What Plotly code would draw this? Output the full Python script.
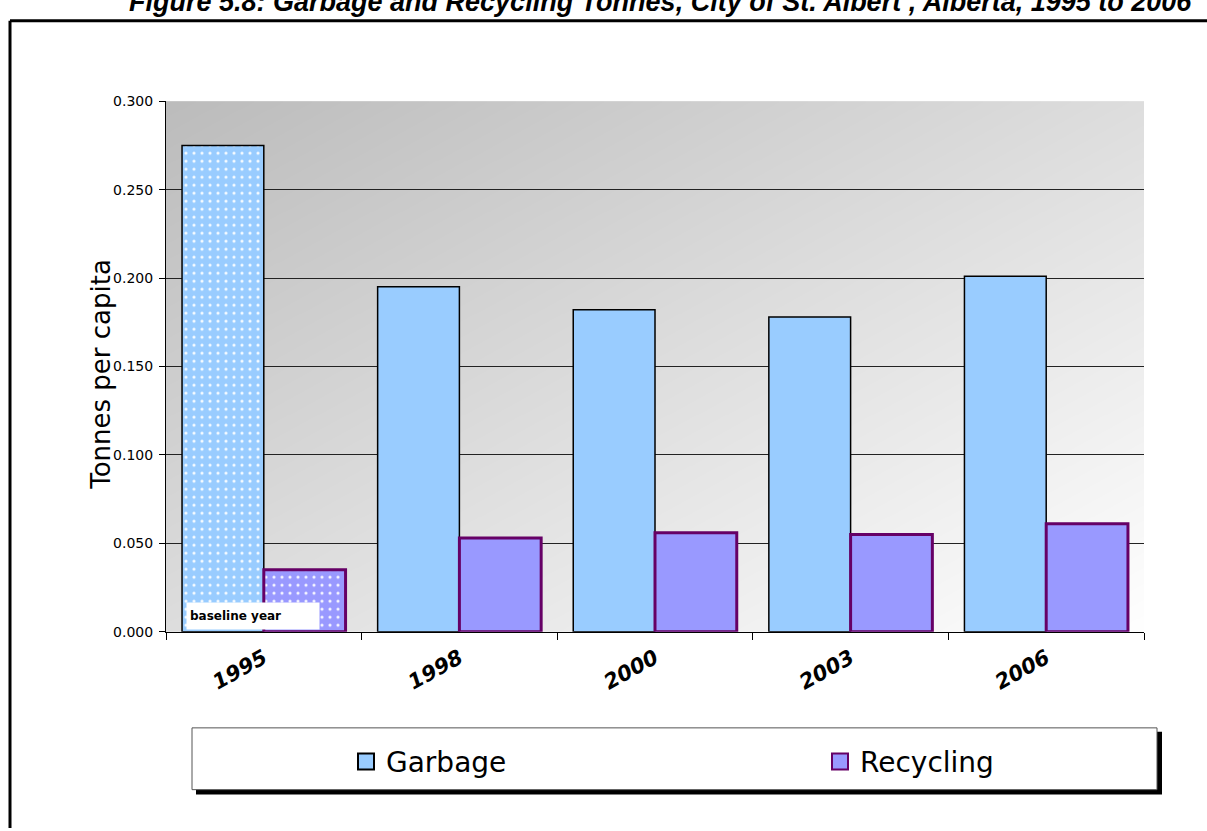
import base64
import struct
import zlib

import numpy as np
import plotly.graph_objects as go

# ---------------- data ----------------
years = ["1995", "1998", "2000", "2003", "2006"]
garbage = [0.275, 0.195, 0.182, 0.178, 0.201]
recycling = [0.035, 0.053, 0.056, 0.055, 0.061]
y_ticks = [0.0, 0.05, 0.10, 0.15, 0.20, 0.25, 0.30]
y_tick_labels = ["0.000", "0.050", "0.100", "0.150", "0.200", "0.250", "0.300"]
pattern_shapes = [".", "", "", "", ""]
title_text = "Figure 5.8: Garbage and Recycling Tonnes, City of St. Albert , Alberta, 1995 to 2006"
y_title = "Tonnes per capita"

W, H = 1207, 831
X0, X1 = 166, 1144
Y0, Y1 = 95, 636
xdom = [X0 / W, X1 / W]
ydom = [1 - Y1 / H, 1 - Y0 / H]


def px(x):
    return x / W


def py(y):
    return 1 - y / H


# ------------- gradient background as PNG -------------
def gradient_png(w, h):
    u = np.linspace(0, 1, w)[None, :]
    v = np.linspace(0, 1, h)[:, None]
    t = (u + v) / 2.0
    img = (188 + 67 * t).clip(0, 255).astype(np.uint8)
    raw = b"".join(b"\x00" + img[r].tobytes() for r in range(h))

    def chunk(tag, data):
        c = struct.pack(">I", len(data)) + tag + data
        return c + struct.pack(">I", zlib.crc32(tag + data) & 0xFFFFFFFF)

    png = b"\x89PNG\r\n\x1a\n"
    png += chunk(b"IHDR", struct.pack(">IIBBBBB", w, h, 8, 0, 0, 0, 0))
    png += chunk(b"IDAT", zlib.compress(raw, 9))
    png += chunk(b"IEND", b"")
    return "data:image/png;base64," + base64.b64encode(png).decode()


bg_src = gradient_png(X1 - X0, Y1 - Y0)

fig = go.Figure()

fig.add_trace(go.Bar(
    x=years, y=garbage, name="Garbage", showlegend=False,
    marker=dict(color="#99CCFF", line=dict(color="#000000", width=1.5),
                pattern=dict(shape=pattern_shapes, fgcolor="white", fillmode="overlay",
                             size=8, solidity=0.12, fgopacity=0.9)),
    hoverinfo="x+y",
))
fig.add_trace(go.Bar(
    x=years, y=recycling, name="Recycling", showlegend=False,
    marker=dict(color="#9999FF", line=dict(color="#660066", width=3),
                pattern=dict(shape=pattern_shapes, fgcolor="white", fillmode="overlay",
                             size=8, solidity=0.12, fgopacity=0.9)),
    hoverinfo="x+y",
))
# legend entries
fig.add_trace(go.Scatter(
    x=[None], y=[None], mode="markers", name="Garbage", legend="legend",
    marker=dict(symbol="square", size=16, color="#99CCFF", line=dict(color="#000000", width=2)),
))
fig.add_trace(go.Scatter(
    x=[None], y=[None], mode="markers", name="Recycling", legend="legend2",
    marker=dict(symbol="square", size=16, color="#9999FF", line=dict(color="#660066", width=2)),
))

LT, LB = 734, 797  # legend box top / bottom
shapes = [
    # outer frame
    dict(type="line", xref="paper", yref="paper", x0=px(10), x1=px(W + 5), y0=py(13), y1=py(13),
         line=dict(color="black", width=3), layer="above"),
    dict(type="line", xref="paper", yref="paper", x0=px(10), x1=px(10), y0=py(13), y1=py(H + 5),
         line=dict(color="black", width=3), layer="above"),
    # legend shadow + box
    dict(type="rect", xref="paper", yref="paper", x0=px(196), x1=px(1162), y0=py(LB + 5),
         y1=py(LT + 4), fillcolor="black", line=dict(width=0), layer="above"),
    dict(type="rect", xref="paper", yref="paper", x0=px(192), x1=px(1157), y0=py(LB),
         y1=py(LT), fillcolor="white", line=dict(color="#555555", width=1), layer="above"),
]

annotations = [
    dict(text=title_text, xref="paper", yref="paper", x=px(660), y=py(-6), xanchor="center",
         yanchor="middle", showarrow=False,
         font=dict(family="Liberation Sans, Arial", size=27, color="black", weight="bold",
                   style="italic")),
    dict(text="<b>baseline year</b>", xref="paper", yref="paper", x=px(186), y=py(634),
         xanchor="left", yanchor="bottom", showarrow=False, align="left", width=126, height=20,
         bgcolor="white", borderpad=3,
         font=dict(family="DejaVu Sans", size=12, color="black")),
    dict(text=y_title, xref="paper", yref="paper", x=px(101), y=py(374), xanchor="center",
         yanchor="middle", textangle=-90, showarrow=False,
         font=dict(family="DejaVu Sans", size=26, color="black")),
]

legend_common = dict(orientation="h", xanchor="left", y=py((LT + LB) / 2 + 3), yanchor="middle",
                     bgcolor="rgba(0,0,0,0)", borderwidth=0,
                     font=dict(family="DejaVu Sans", size=28, color="black"),
                     itemclick=False, itemdoubleclick=False)

fig.update_layout(
    width=W, height=H,
    margin=dict(l=0, r=0, t=0, b=0),
    paper_bgcolor="white",
    plot_bgcolor="rgba(0,0,0,0)",
    barmode="group",
    bargap=0.164,
    bargroupgap=0,
    font=dict(family="DejaVu Sans", color="black"),
    images=[dict(source=bg_src, xref="paper", yref="paper", x=xdom[0], y=ydom[1],
                 sizex=xdom[1] - xdom[0], sizey=ydom[1] - ydom[0], xanchor="left",
                 yanchor="top", sizing="stretch", layer="below")],
    shapes=shapes,
    annotations=annotations,
    showlegend=True,
    legend=dict(x=px(346), **legend_common),
    legend2=dict(x=px(820), **legend_common),
    xaxis=dict(domain=xdom, type="category", showline=True, linecolor="black", linewidth=1,
               ticks="outside", tickson="boundaries", ticklen=7, tickcolor="black",
               tickangle=-29, showgrid=False, ticklabelstandoff=5,
               tickfont=dict(family="DejaVu Sans", size=21, color="black", weight="bold",
                             style="italic")),
    yaxis=dict(domain=ydom, range=[0, 0.3], tickvals=y_ticks, ticktext=y_tick_labels,
               showline=True, linecolor="black", linewidth=1, ticks="outside", ticklen=6,
               tickcolor="black", showgrid=True, gridcolor="#222222", gridwidth=1,
               zeroline=False, ticklabelstandoff=3,
               tickfont=dict(family="DejaVu Sans", size=14, color="black")),
)

fig.write_html("out.html", config={"displayModeBar": False})
